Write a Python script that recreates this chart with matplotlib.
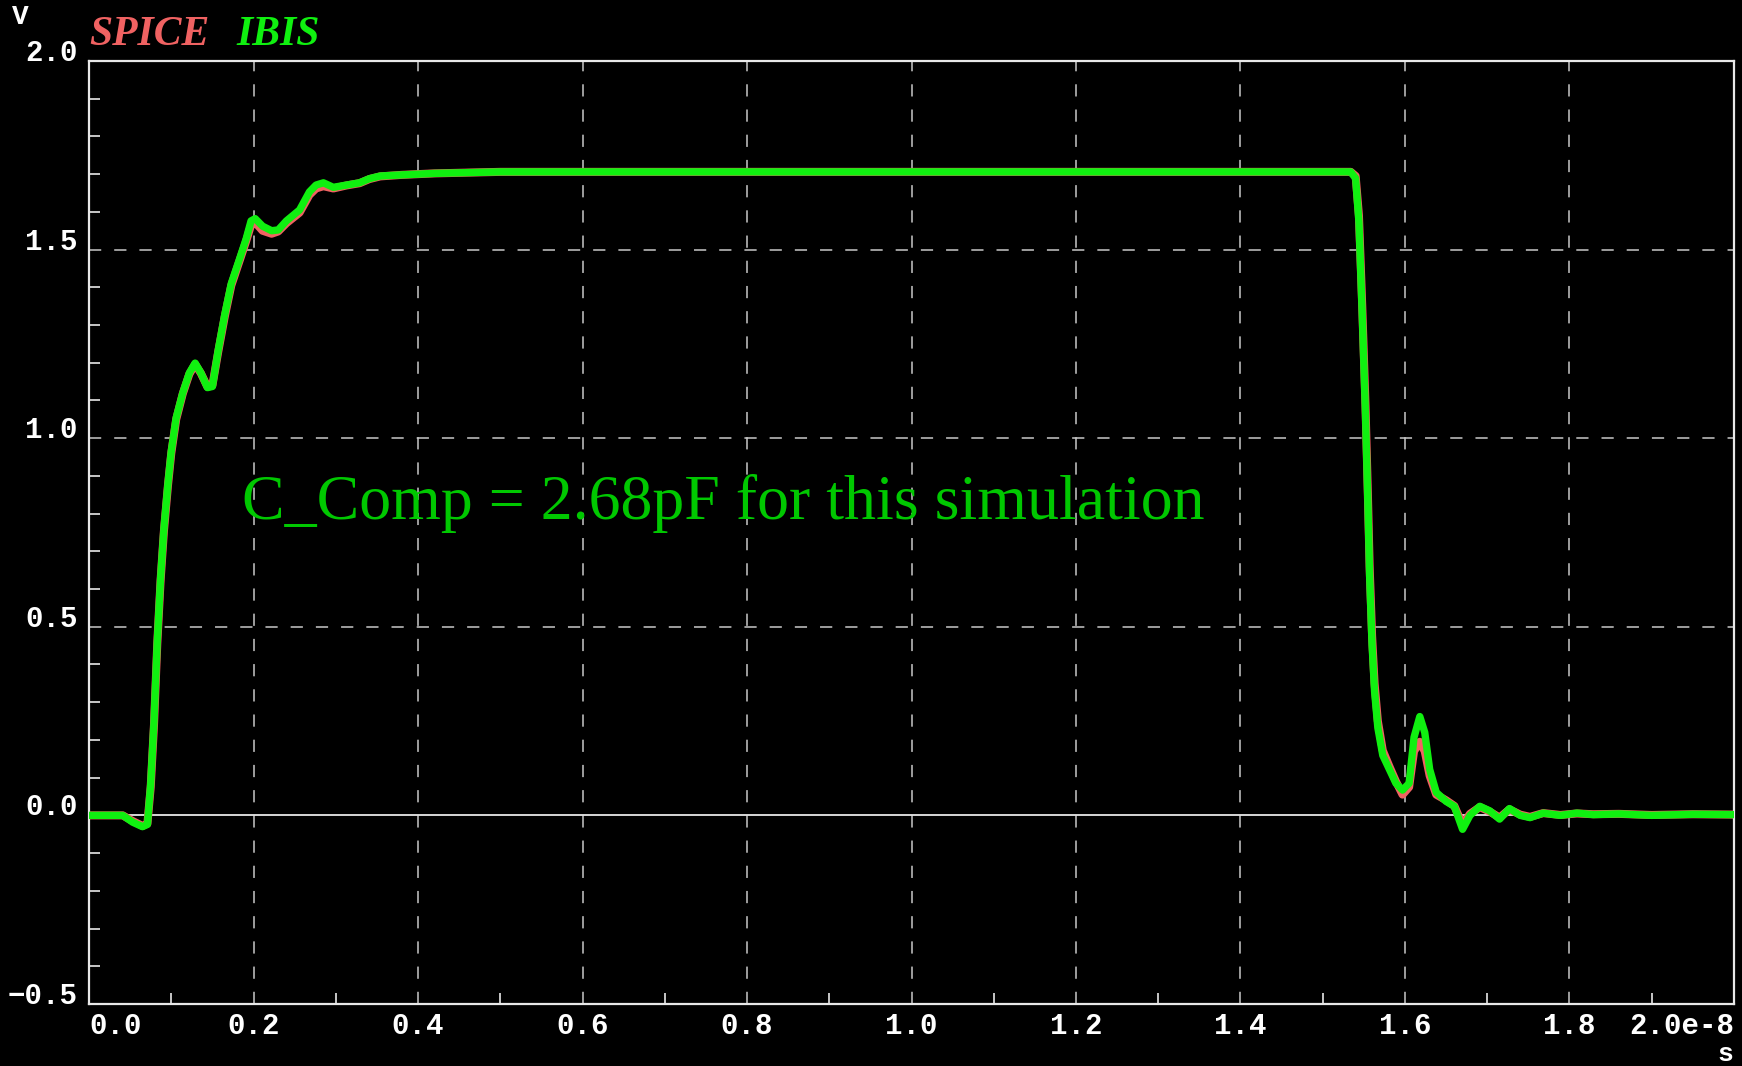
import numpy as np
from matplotlib import pyplot as plt
from matplotlib.ticker import FixedLocator, MultipleLocator

# time axis in units of 1e-8 s, voltage in V
ibis_t = [0.0, 0.041, 0.053, 0.065, 0.071, 0.075, 0.079, 0.083, 0.087, 0.091,
          0.096, 0.100, 0.106, 0.114, 0.122, 0.129, 0.136, 0.144, 0.150, 0.157,
          0.165, 0.173, 0.183, 0.191, 0.197, 0.202, 0.211, 0.222, 0.230, 0.240,
          0.256, 0.268, 0.276, 0.285, 0.297, 0.313, 0.329, 0.341, 0.354, 0.380,
          0.420, 0.500, 1.000, 1.534, 1.540, 1.544, 1.548, 1.552, 1.555, 1.557,
          1.560, 1.563, 1.567, 1.573, 1.581, 1.589, 1.597, 1.605, 1.611, 1.618,
          1.624, 1.630, 1.638, 1.650, 1.660, 1.670, 1.679, 1.691, 1.703, 1.715,
          1.727, 1.740, 1.752, 1.768, 1.789, 1.809, 1.829, 1.860, 1.900, 1.950,
          2.000]
ibis_v = [0.0, 0.0, -0.018, -0.030, -0.024, 0.083, 0.249, 0.462, 0.628, 0.758,
          0.880, 0.965, 1.054, 1.120, 1.173, 1.199, 1.173, 1.134, 1.137, 1.232,
          1.327, 1.410, 1.475, 1.528, 1.576, 1.582, 1.562, 1.550, 1.552, 1.576,
          1.605, 1.653, 1.671, 1.677, 1.665, 1.671, 1.677, 1.688, 1.695, 1.698,
          1.702, 1.706, 1.706, 1.706, 1.689, 1.573, 1.329, 1.061, 0.817, 0.634,
          0.451, 0.329, 0.232, 0.159, 0.122, 0.085, 0.067, 0.085, 0.207, 0.262,
          0.220, 0.122, 0.061, 0.037, 0.024, -0.037, 0.000, 0.024, 0.012, -0.010,
          0.018, 0.000, -0.006, 0.006, 0.000, 0.006, 0.002, 0.004, 0.000, 0.003,
          0.002]

spice_t = ibis_t
spice_v = [0.0, 0.0, -0.015, -0.028, -0.022, 0.075, 0.240, 0.455, 0.622, 0.752,
           0.875, 0.960, 1.050, 1.118, 1.170, 1.196, 1.172, 1.136, 1.140, 1.228,
           1.322, 1.405, 1.470, 1.522, 1.565, 1.572, 1.550, 1.542, 1.548, 1.570,
           1.598, 1.645, 1.662, 1.668, 1.662, 1.670, 1.676, 1.687, 1.694, 1.698,
           1.702, 1.706, 1.706, 1.706, 1.695, 1.590, 1.350, 1.085, 0.840, 0.660,
           0.475, 0.350, 0.250, 0.172, 0.130, 0.090, 0.055, 0.075, 0.170, 0.195,
           0.170, 0.105, 0.055, 0.040, 0.025, -0.025, 0.004, 0.022, 0.010, -0.006,
           0.016, 0.002, -0.004, 0.006, 0.001, 0.005, 0.003, 0.004, 0.001, 0.003,
           0.002]

x_ticks = [0.0, 0.2, 0.4, 0.6, 0.8, 1.0, 1.2, 1.4, 1.6, 1.8, 2.0]
x_labels = ["0.0", "0.2", "0.4", "0.6", "0.8", "1.0", "1.2", "1.4", "1.6", "1.8", "2.0e-8"]
y_ticks = [-0.5, 0.0, 0.5, 1.0, 1.5, 2.0]
y_labels = ["\u22120.5", "0.0", "0.5", "1.0", "1.5", "2.0"]

red = "#f06262"
green = "#10f010"
fg = "#e8e8e8"

fig = plt.figure(figsize=(17.42, 10.66), dpi=100, facecolor="black")
ax = fig.add_axes([0.0511, 0.0582, 0.9443, 0.8846], facecolor="black")

ax.set_xlim(0, 2.0)
ax.set_ylim(-0.5, 2.0)

# dashed grid and the solid zero line
for x in x_ticks[1:-1]:
    ax.axvline(x, color="#c8c8c8", lw=1.1, dashes=(8, 8.5), zorder=1)
for y in [0.5, 1.0, 1.5]:
    ax.axhline(y, color="#c8c8c8", lw=1.1, dashes=(8, 8.5), zorder=1)
ax.axhline(0.0, color=fg, lw=1.3, zorder=1)

ax.plot(spice_t, spice_v, color=red, lw=5.8, solid_joinstyle="round", zorder=2)
ax.plot(ibis_t, ibis_v, color=green, lw=5.3, solid_joinstyle="round", zorder=3)

for s in ax.spines.values():
    s.set_color(fg)
    s.set_linewidth(1.6)

ax.xaxis.set_major_locator(FixedLocator(x_ticks))
ax.xaxis.set_minor_locator(MultipleLocator(0.1))
ax.yaxis.set_major_locator(FixedLocator(y_ticks))
ax.yaxis.set_minor_locator(MultipleLocator(0.1))
ax.set_xticklabels(x_labels)
ax.set_yticklabels(y_labels)
ax.tick_params(which="both", direction="in", color=fg, width=1.2,
               top=False, right=False)
ax.tick_params(which="major", length=0, labelcolor="white", labelsize=21)
ax.tick_params(which="minor", length=8)
ax.tick_params(axis="x", pad=6)
ax.tick_params(axis="y", pad=8)

for lab in ax.get_xticklabels() + ax.get_yticklabels():
    lab.set_family("Liberation Mono")
    lab.set_weight("bold")
for lab in ax.get_yticklabels():
    lab.set_verticalalignment("baseline")
xl = ax.get_xticklabels()
xl[0].set_horizontalalignment("left")
xl[-1].set_horizontalalignment("right")

# axis units
fig.text(0.0115, 0.984, "V", color="white", fontsize=20, family="Liberation Mono",
         weight="bold", ha="center", va="center")
fig.text(0.9905, 0.0, "s", color="white", fontsize=19, family="Liberation Mono",
         weight="bold", ha="center", va="bottom")

# trace legend
fig.text(0.0511, 0.967, "SPICE", color=red, fontsize=30, family="Liberation Serif",
         style="italic", weight="bold", ha="left", va="center")
fig.text(0.1355, 0.967, "IBIS", color=green, fontsize=30, family="Liberation Serif",
         style="italic", weight="bold", ha="left", va="center")

ax.text(0.186, 0.786, "C_Comp = 2.68pF for this simulation", color="#00c800",
        fontsize=46, family="Liberation Serif", ha="left", va="baseline", zorder=4)

fig.savefig("out.png", dpi=100, facecolor="black")
